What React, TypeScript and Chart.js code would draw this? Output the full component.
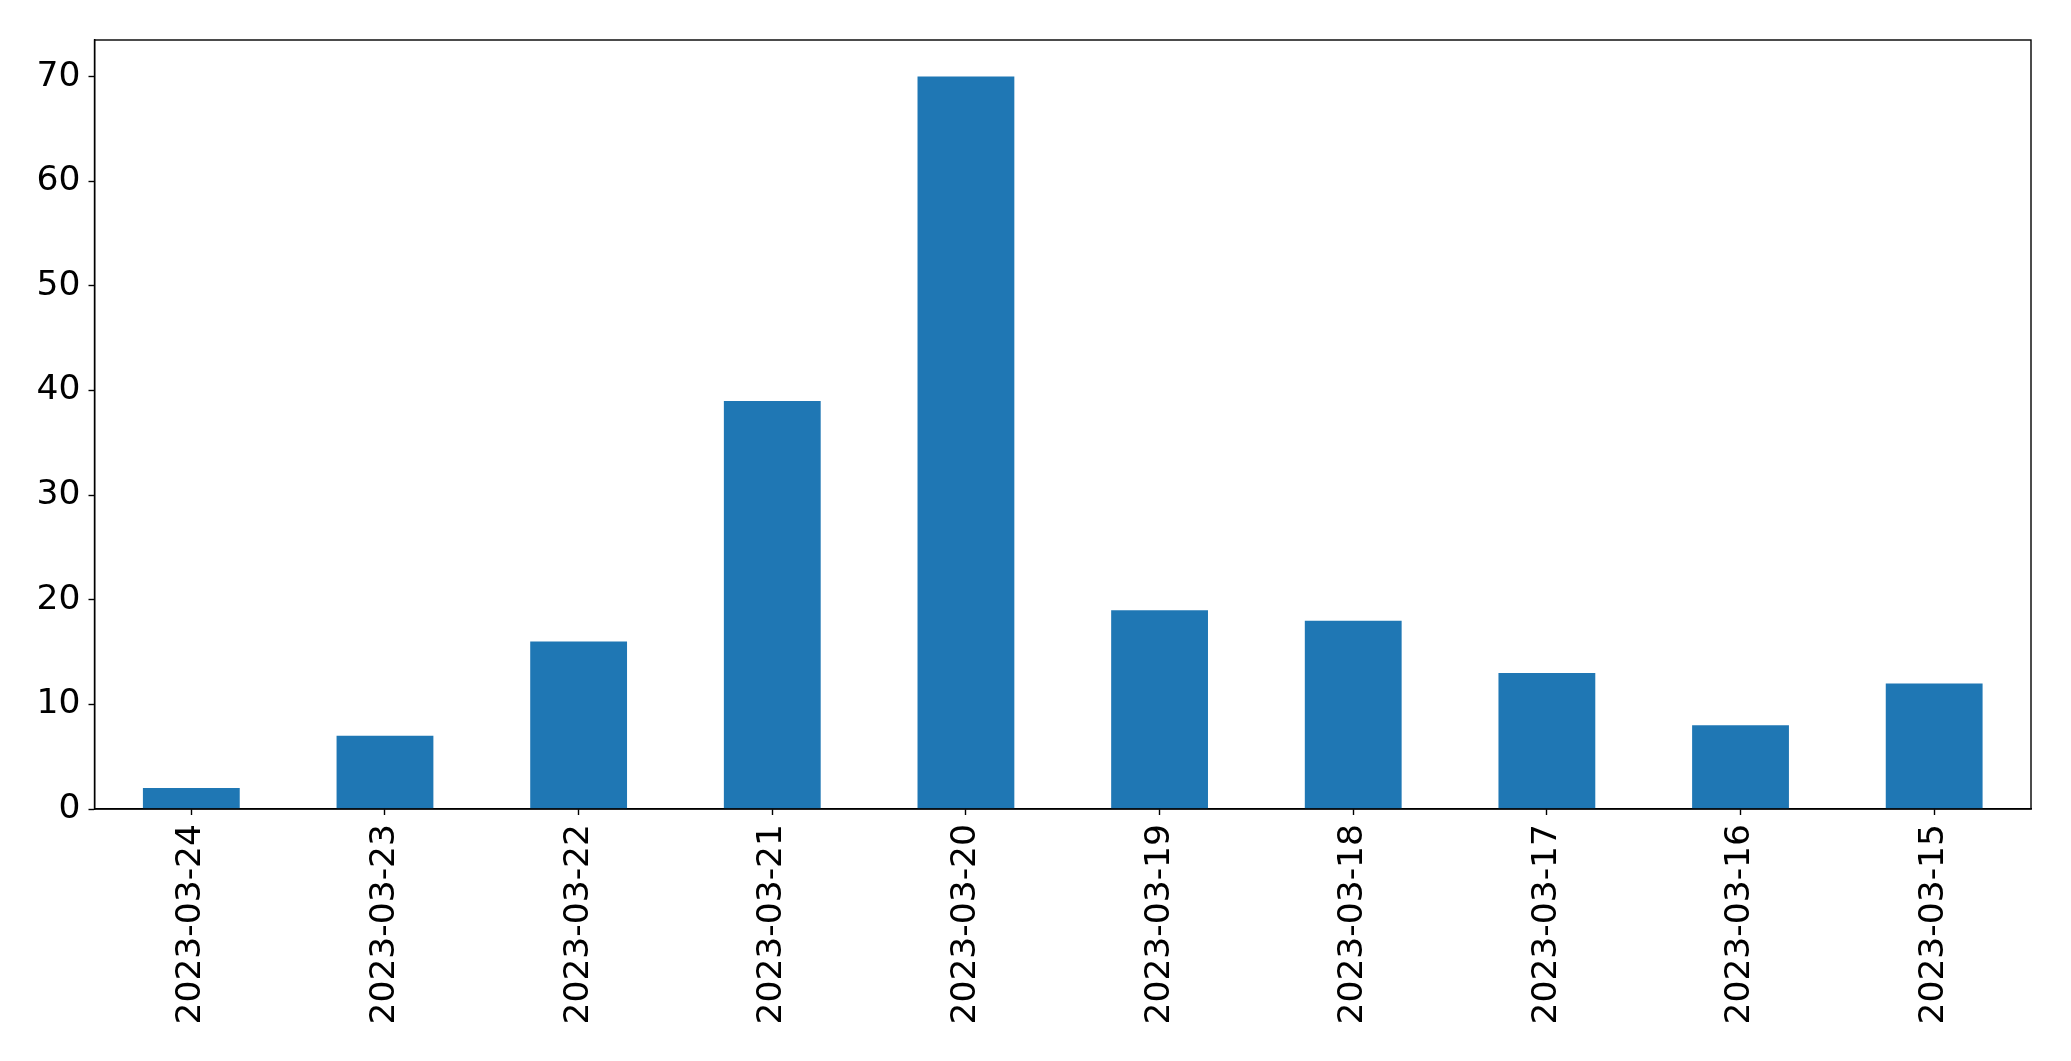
import React, { useEffect, useRef } from "react";
import { Chart, registerables } from "chart.js";

Chart.register(...registerables);

const categories = [
  "2023-03-24",
  "2023-03-23",
  "2023-03-22",
  "2023-03-21",
  "2023-03-20",
  "2023-03-19",
  "2023-03-18",
  "2023-03-17",
  "2023-03-16",
  "2023-03-15",
];
const values = [2, 7, 16, 39, 70, 19, 18, 13, 8, 12];
const yTicks = [0, 10, 20, 30, 40, 50, 60, 70];
const yMax = 73.5;

const frame = {
  id: "frame",
  afterDraw(chart: any) {
    const { ctx, chartArea } = chart;
    ctx.save();
    ctx.strokeStyle = "#000";
    ctx.lineWidth = 1.4;
    ctx.strokeRect(chartArea.left, chartArea.top, chartArea.right - chartArea.left, chartArea.bottom - chartArea.top);
    ctx.restore();
  },
};

export default function App() {
  const ref = useRef<HTMLCanvasElement>(null);
  useEffect(() => {
    const font = { family: "DejaVu Sans", size: 34.5 };
    const chart = new Chart(ref.current!, {
      type: "bar",
      data: {
        labels: categories,
        datasets: [
          {
            data: values,
            backgroundColor: "#1f77b4",
            barPercentage: 0.5,
            categoryPercentage: 1,
          },
        ],
      },
      options: {
        animation: false,
        responsive: false,
        maintainAspectRatio: false,
        layout: { padding: { top: 40, right: 40, left: 0, bottom: 0 } },
        plugins: { legend: { display: false }, tooltip: { enabled: false } },
        scales: {
          x: {
            offset: true,
            grid: { offset: false, drawOnChartArea: false, drawTicks: true, tickLength: 6, tickColor: "#000", tickWidth: 1.4 },
            border: { display: true, color: "#000", width: 1.4 },
            ticks: { color: "#000", font, minRotation: 90, maxRotation: 90, padding: 9, autoSkip: false },
            afterFit(scale: any) {
              scale.height = 252;
            },
          },
          y: {
            min: 0,
            max: yMax,
            grid: { drawOnChartArea: false, drawTicks: true, tickLength: 6, tickColor: "#000", tickWidth: 1.4 },
            border: { display: true, color: "#000", width: 1.4 },
            ticks: { color: "#000", font, padding: 8, stepSize: 10, includeBounds: false },
            afterBuildTicks(scale: any) {
              scale.ticks = yTicks.map((v) => ({ value: v }));
            },
            afterFit(scale: any) {
              scale.width = 94.5;
            },
          },
        },
      },
      plugins: [frame],
    });
    return () => chart.destroy();
  }, []);
  return (
    <div style={{ position: "fixed", left: 0, top: 0, width: 2071, height: 1061, background: "#fff" }}>
      <canvas ref={ref} width={2071} height={1061} style={{ width: 2071, height: 1061, display: "block" }} />
    </div>
  );
}
